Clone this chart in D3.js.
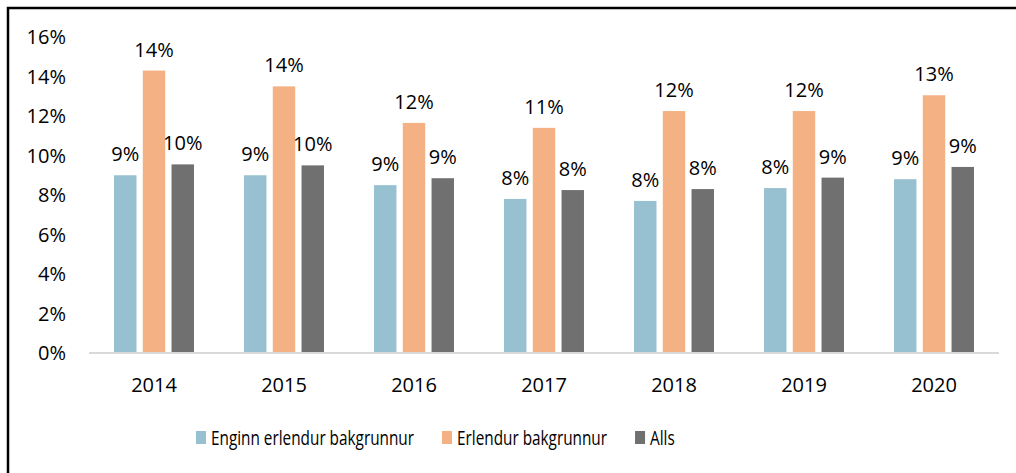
<!DOCTYPE html>
<html>
<head>
<meta charset="utf-8">
<script src="https://d3js.org/d3.v7.min.js"></script>
<style>
  body { margin: 0; background: #fff; }
  svg text { font-family: "Open Sans", "Noto Sans", sans-serif; fill: #000; }
</style>
</head>
<body>
<script>
const years = ['2014', '2015', '2016', '2017', '2018', '2019', '2020'];
const seriesNames = ['Enginn erlendur bakgrunnur', 'Erlendur bakgrunnur', 'Alls'];
const noBackground = [9.0, 9.0, 8.5, 7.8, 7.7, 8.35, 8.8];
const foreignBackground = [14.3, 13.5, 11.65, 11.4, 12.25, 12.25, 13.05];
const allPupils = [9.55, 9.5, 8.85, 8.25, 8.3, 8.88, 9.42];
const yTicks = [0, 2, 4, 6, 8, 10, 12, 14, 16];
const colors = ['#97c1d1', '#f4b183', '#707070'];

const W = 1016, H = 473;
const plotLeft = 89, plotRight = 999, plotTop = 37, plotBottom = 353;

const values = [noBackground, foreignBackground, allPupils];
const rows = years.map((yr, i) => ({
  year: yr,
  vals: seriesNames.map((s, j) => ({ key: s, v: values[j][i] }))
}));

const svg = d3.select('body').append('svg')
  .attr('width', W).attr('height', H);

// frame (only left and top edges visible in the crop)
svg.append('path')
  .attr('d', `M8,${H} V8 H${W}`)
  .attr('fill', 'none').attr('stroke', '#000').attr('stroke-width', 2.5);

const x0 = d3.scaleBand().domain(years).range([plotLeft, plotRight])
  .paddingInner(0.385).paddingOuter(0.1925);
const x1 = d3.scaleBand().domain(seriesNames).range([0, x0.bandwidth()])
  .paddingInner(0.22).paddingOuter(0);
const y = d3.scaleLinear().domain([0, 16]).range([plotBottom, plotTop]);
const color = d3.scaleOrdinal().domain(seriesNames).range(colors);

// y tick labels
svg.append('g').selectAll('text').data(yTicks).join('text')
  .attr('x', 66).attr('y', d => y(d) + 7)
  .attr('text-anchor', 'end').attr('font-size', 20)
  .text(d => d + '%');

// bars
const groups = svg.append('g').selectAll('g').data(rows).join('g')
  .attr('transform', d => `translate(${x0(d.year)},0)`);

groups.selectAll('rect').data(d => d.vals).join('rect')
  .attr('x', d => x1(d.key))
  .attr('y', d => y(d.v))
  .attr('width', x1.bandwidth())
  .attr('height', d => plotBottom - y(d.v))
  .attr('fill', d => color(d.key));

groups.selectAll('text').data(d => d.vals).join('text')
  .attr('x', d => x1(d.key) + x1.bandwidth() / 2)
  .attr('y', d => y(d.v) - 14)
  .attr('text-anchor', 'middle').attr('font-size', 20)
  .text(d => Math.round(d.v) + '%');

// baseline
svg.append('line')
  .attr('x1', plotLeft).attr('x2', plotRight)
  .attr('y1', plotBottom).attr('y2', plotBottom)
  .attr('stroke', '#d9d9d9').attr('stroke-width', 2);

// year labels
svg.append('g').selectAll('text').data(years).join('text')
  .attr('x', d => x0(d) + x0.bandwidth() / 2)
  .attr('y', 392)
  .attr('text-anchor', 'middle').attr('font-size', 20)
  .text(d => d);

// legend (text narrowed to mimic the condensed original face)
const legend = svg.append('g');
let lx = 196;
let squeeze = null;
seriesNames.forEach((name, i) => {
  legend.append('rect')
    .attr('x', lx).attr('y', 431).attr('width', 10).attr('height', 13)
    .attr('fill', colors[i]);
  const t = legend.append('text')
    .attr('x', lx + 15).attr('y', 445).attr('font-size', 20)
    .text(name);
  const raw = t.node().getComputedTextLength();
  if (squeeze === null) squeeze = 203 / raw;
  const w = raw * squeeze;
  t.attr('textLength', w).attr('lengthAdjust', 'spacingAndGlyphs');
  lx += 15 + w + 28;
});
</script>
</body>
</html>
